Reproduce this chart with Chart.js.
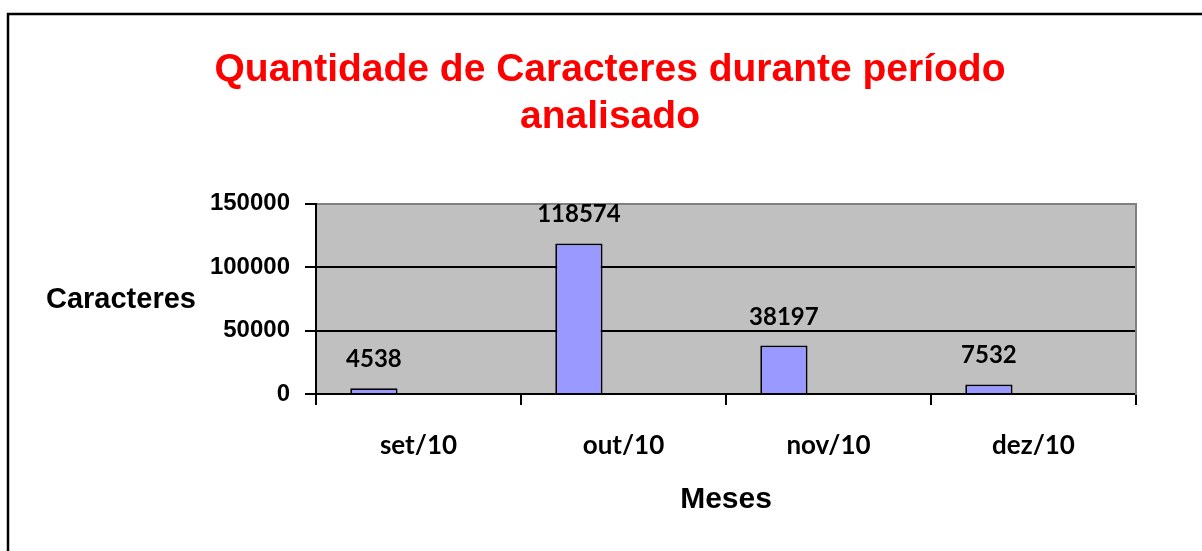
<!DOCTYPE html>
<html>
<head>
<meta charset="utf-8">
<script src="https://cdn.jsdelivr.net/npm/chart.js@4"></script>
<style>
  body { margin: 0; background: #fff; }
  .wrap { width: 1202px; height: 551px; position: relative; }
</style>
</head>
<body>
<div class="wrap"><canvas id="grafico"></canvas></div>
<script>
const meses = ['set/10', 'out/10', 'nov/10', 'dez/10'];
const caracteres = [4538, 118574, 38197, 7532];
// second (empty) series, only keeps the bars left of the category centre like the original
const vazio = [null, null, null, null];
const ticksY = [0, 50000, 100000, 150000];

const arial = '"Liberation Sans", Arial, sans-serif';
const calibri = 'Lato, "Open Sans", sans-serif';

// frame, plot background and the "Caracteres" label
const fundo = {
    id: 'fundo',
    beforeDraw(chart) {
        const ctx = chart.ctx;
        const a = chart.chartArea;
        ctx.save();
        ctx.fillStyle = '#fff';
        ctx.fillRect(0, 0, chart.width, chart.height);
        ctx.strokeStyle = '#000';
        ctx.lineWidth = 2.5;
        ctx.strokeRect(8, 14, chart.width + 20, chart.height + 20);
        ctx.fillStyle = '#c0c0c0';
        ctx.fillRect(a.left, a.top, a.right - a.left, a.bottom - a.top);
        ctx.restore();
    },
    afterDraw(chart) {
        const ctx = chart.ctx;
        ctx.save();
        ctx.fillStyle = '#000';
        ctx.font = 'bold 29px ' + arial;
        ctx.textAlign = 'left';
        ctx.textBaseline = 'alphabetic';
        ctx.fillText('Caracteres', 46, 308);
        ctx.restore();
    }
};

// value on top of each bar
const rotulos = {
    id: 'rotulos',
    afterDatasetsDraw(chart) {
        const ctx = chart.ctx;
        const meta = chart.getDatasetMeta(0);
        ctx.save();
        ctx.fillStyle = '#000';
        ctx.font = 'bold 24px ' + calibri;
        ctx.textAlign = 'center';
        ctx.textBaseline = 'alphabetic';
        meta.data.forEach(function(bar, i) {
            ctx.fillText(String(caracteres[i]), bar.x, bar.y - 21);
        });
        ctx.restore();
    }
};

const grafico = new Chart(document.getElementById('grafico'), {
    type: 'bar',
    data: {
        labels: meses,
        datasets: [{
            label: 'Caracteres',
            data: caracteres,
            backgroundColor: '#9999ff',
            borderColor: '#000',
            borderWidth: 1.8,
            categoryPercentage: 0.87,
            barPercentage: 0.53
        }, {
            label: '',
            data: vazio,
            categoryPercentage: 0.87,
            barPercentage: 0.53
        }]
    },
    options: {
        responsive: true,
        maintainAspectRatio: false,
        animation: false,
        layout: { padding: { top: 20, right: 0, left: 18, bottom: 0 } },
        plugins: {
            legend: { display: false },
            tooltip: { enabled: false },
            title: {
                display: true,
                text: ['Quantidade de Caracteres durante período', 'analisado'],
                color: '#ff0000',
                font: { family: arial, size: 39, weight: 'bold', lineHeight: 1.2 },
                padding: { top: 27, bottom: 63 }
            }
        },
        scales: {
            x: {
                grid: {
                    display: true,
                    drawOnChartArea: false,
                    offset: true,
                    color: '#000',
                    lineWidth: 2,
                    tickLength: 11
                },
                border: { color: '#000', width: 2 },
                ticks: {
                    color: '#000',
                    padding: 25,
                    font: { family: calibri, size: 26, weight: 'bold' }
                },
                title: {
                    display: true,
                    text: 'Meses',
                    color: '#000',
                    font: { family: arial, size: 30, weight: 'bold' },
                    padding: { top: 0, bottom: 33 }
                },
                afterFit(scale) { scale.height = 157; }
            },
            y: {
                min: 0,
                max: 150000,
                afterBuildTicks(scale) {
                    scale.ticks = ticksY.map(function(v) { return { value: v }; });
                },
                grid: {
                    color: function(c) { return c.tick && c.tick.value === 150000 ? '#808080' : '#000'; },
                    tickColor: '#000',
                    lineWidth: 2,
                    tickLength: 11
                },
                border: { color: '#000', width: 2 },
                ticks: {
                    color: '#000',
                    padding: 15,
                    font: { family: arial, size: 24, weight: 'bold' },
                    callback: function(v) { return String(v); }
                },
                afterFit(scale) { scale.width = 298; }
            },
            // right edge of the plot area (grey border), no ticks
            direita: {
                position: 'right',
                display: true,
                min: 0,
                max: 150000,
                grid: { display: false },
                ticks: { display: false },
                border: { color: '#808080', width: 2 },
                afterFit(scale) { scale.width = 66; }
            }
        }
    },
    plugins: [fundo, rotulos]
});
</script>
</body>
</html>
